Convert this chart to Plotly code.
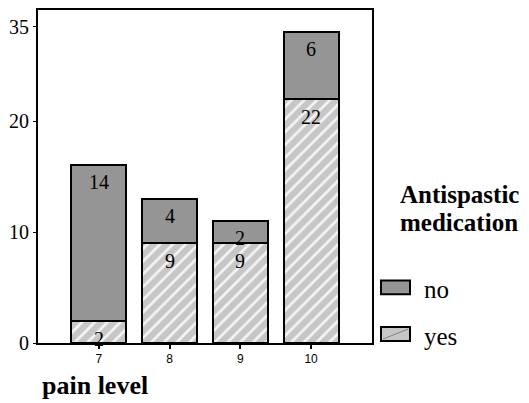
import plotly.graph_objects as go

# ---- data ----
categories = ["7", "8", "9", "10"]
yes_counts = [2, 9, 9, 22]
no_counts = [14, 4, 2, 6]
ytick_vals = [0, 10, 20, 28.5]
ytick_text = ["0", "10", "20", "35"]
legend_title = ["Antispastic", "medication"]
series_names = ["no", "yes"]
x_title = "pain level"

W, H = 529, 403
L, R, T, B = 38, 372, 8, 343
PW, PH = R - L, B - T


def px(x):
    return (x - L) / PW


def py(y):
    return (B - y) / PH


SERIF = "Liberation Serif, Times New Roman, serif"
SANS = "Liberation Sans, Arial, sans-serif"
YES_COLOR = "#c6c6c6"
NO_COLOR = "#959595"
BAR_W = 0.777

fig = go.Figure()
fig.add_bar(
    x=categories, y=yes_counts, name=series_names[1], width=BAR_W,
    marker=dict(color=YES_COLOR, line=dict(color="black", width=2),
                pattern=dict(shape="/", fgcolor="white", bgcolor=YES_COLOR,
                             size=9, solidity=0.3, fgopacity=0.8)),
    showlegend=False, hoverinfo="skip",
)
fig.add_bar(
    x=categories, y=no_counts, name=series_names[0], width=BAR_W,
    marker=dict(color=NO_COLOR, line=dict(color="black", width=2)),
    showlegend=False, hoverinfo="skip",
)

# count labels inside segments (x given as category index)
for i, c in enumerate(categories):
    fig.add_annotation(x=i, y=yes_counts[i], text=str(yes_counts[i]),
                       showarrow=False, yanchor="middle", yshift=-18,
                       font=dict(family=SERIF, size=20, color="black"))
    fig.add_annotation(x=i, y=yes_counts[i] + no_counts[i], text=str(no_counts[i]),
                       showarrow=False, yanchor="middle", yshift=-17,
                       font=dict(family=SERIF, size=20, color="black"))

# x axis title (left aligned)
fig.add_annotation(xref="paper", yref="paper", x=px(40), y=py(386),
                   xanchor="left", yanchor="middle", text="<b>%s</b>" % x_title,
                   showarrow=False, font=dict(family=SERIF, size=26, color="black"))

# manual legend
fig.add_annotation(xref="paper", yref="paper", x=px(399), y=py(194),
                   xanchor="left", yanchor="middle", text="<b>%s</b>" % legend_title[0],
                   showarrow=False, borderpad=0,
                   font=dict(family=SERIF, size=25, color="black"))
fig.add_annotation(xref="paper", yref="paper", x=px(399), y=py(222),
                   xanchor="left", yanchor="middle", text="<b>%s</b>" % legend_title[1],
                   showarrow=False, borderpad=0,
                   font=dict(family=SERIF, size=25, color="black"))

fig.add_shape(type="rect", xref="paper", yref="paper",
              x0=px(381), x1=px(410), y0=py(280), y1=py(294),
              fillcolor=NO_COLOR, line=dict(color="black", width=2))
fig.add_shape(type="rect", xref="paper", yref="paper",
              x0=px(381), x1=px(410), y0=py(327), y1=py(341),
              fillcolor=YES_COLOR, line=dict(color="black", width=2))
fig.add_shape(type="line", xref="paper", yref="paper",
              x0=px(383), x1=px(408), y0=py(339), y1=py(329),
              line=dict(color="#666666", width=0.7))
fig.add_annotation(xref="paper", yref="paper", x=px(422), y=py(289),
                   xanchor="left", yanchor="middle", text=series_names[0],
                   showarrow=False, font=dict(family=SERIF, size=25, color="black"))
fig.add_annotation(xref="paper", yref="paper", x=px(422), y=py(336),
                   xanchor="left", yanchor="middle", text=series_names[1],
                   showarrow=False, font=dict(family=SERIF, size=25, color="black"))

fig.update_layout(
    barmode="stack",
    width=W, height=H, autosize=False,
    margin=dict(l=L, r=W - R, t=T, b=H - B, pad=0),
    plot_bgcolor="white", paper_bgcolor="white",
    showlegend=False,
    xaxis=dict(type="category", range=[-0.862, 3.862], showline=True,
               linecolor="black", linewidth=2, mirror=True, ticks="outside",
               ticklen=4, tickwidth=1.5, tickcolor="black", showgrid=False,
               zeroline=False, tickfont=dict(family=SANS, size=12, color="black")),
    yaxis=dict(range=[0, 30], tickvals=ytick_vals, ticktext=ytick_text,
               showline=True, linecolor="black", linewidth=2, mirror=True,
               ticks="outside", ticklen=3, tickwidth=1, tickcolor="black",
               showgrid=False, zeroline=False,
               tickfont=dict(family=SERIF, size=20, color="black")),
)

fig.write_html("out.html",
               config={"displayModeBar": False},
               post_script="document.body.style.margin='0px';"
                           "document.body.style.overflow='hidden';")
